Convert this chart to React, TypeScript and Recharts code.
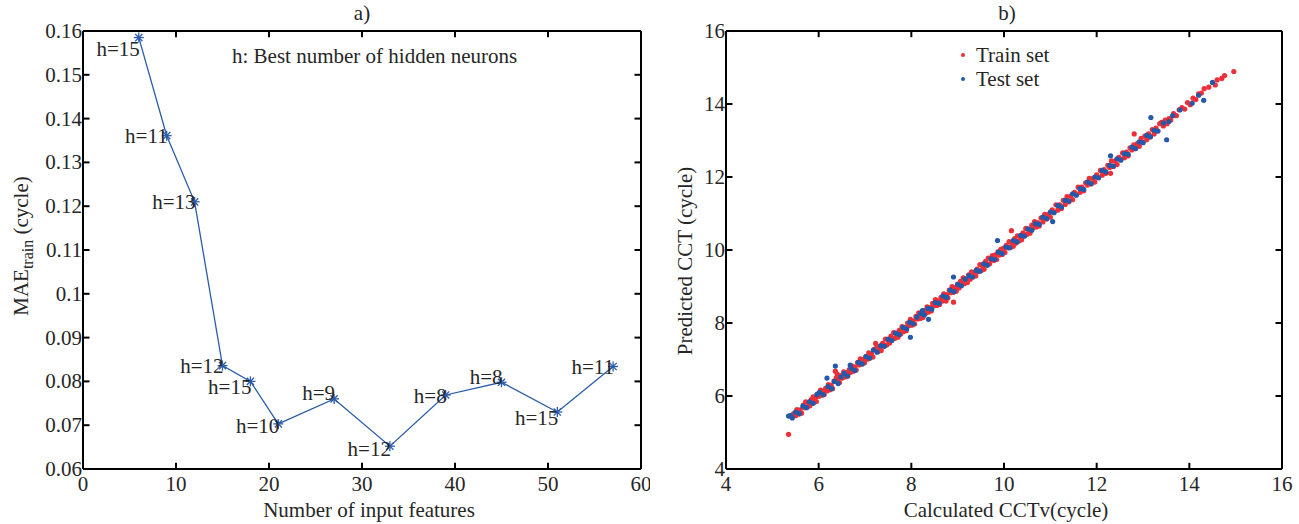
import React from "react";
import {
  LineChart,
  Line,
  XAxis,
  YAxis,
  ScatterChart,
  Scatter,
  Legend,
  LabelList,
  Label,
  ReferenceLine,
} from "recharts";

// panel a) MAE vs number of input features
const featureCounts = [6, 9, 12, 15, 18, 21, 27, 33, 39, 45, 51, 57];
const maeTrain = [0.1585, 0.1361, 0.121, 0.0836, 0.08, 0.0703, 0.076, 0.0652, 0.0769, 0.0798, 0.073, 0.0834];
const hiddenNeurons = [15, 11, 13, 12, 15, 10, 9, 12, 8, 8, 15, 11];
const xTicksA = [0, 10, 20, 30, 40, 50, 60];
const yTicksA = [0.06, 0.07, 0.08, 0.09, 0.1, 0.11, 0.12, 0.13, 0.14, 0.15, 0.16];

// panel b) calculated vs predicted CCT
const ticksB = [4, 6, 8, 10, 12, 14, 16];
const trainSet: [number, number][] = [
  [5.35, 4.95], [5.46, 5.52], [5.5, 5.46], [5.53, 5.63], [5.57, 5.5], [5.6, 5.62], [5.63, 5.53], [5.67, 5.75],
  [5.7, 5.68], [5.72, 5.84], [5.76, 5.71], [5.79, 5.83], [5.81, 5.73], [5.84, 5.9], [5.86, 5.82], [5.88, 5.98],
  [5.9, 5.83], [5.93, 5.95], [5.95, 5.85], [5.98, 6.06], [6.01, 5.99], [6.04, 6.16], [6.07, 6.02], [6.09, 6.13],
  [6.12, 6.04], [6.15, 6.21], [6.18, 6.14], [6.21, 6.31], [6.24, 6.17], [6.27, 6.29], [6.3, 6.2], [6.33, 6.41],
  [6.36, 6.68], [6.38, 6.5], [6.4, 6.6], [6.42, 6.46], [6.45, 6.37], [6.48, 6.56], [6.51, 6.49], [6.54, 6.66],
  [6.57, 6.52], [6.6, 6.64], [6.63, 6.55], [6.66, 6.72], [6.69, 6.65], [6.72, 6.82], [6.75, 6.68], [6.78, 6.8],
  [6.81, 6.71], [6.84, 6.92], [6.87, 6.85], [6.9, 7.02], [6.93, 6.88], [6.96, 7.0], [6.99, 6.91], [7.02, 7.08],
  [7.05, 7.01], [7.08, 7.18], [7.11, 7.04], [7.14, 7.16], [7.17, 7.07], [7.2, 7.28], [7.23, 7.44], [7.26, 7.36],
  [7.29, 7.22], [7.32, 7.34], [7.35, 7.25], [7.38, 7.44], [7.41, 7.39], [7.44, 7.56], [7.47, 7.4], [7.5, 7.54],
  [7.53, 7.45], [7.56, 7.64], [7.59, 7.57], [7.62, 7.74], [7.65, 7.58], [7.68, 7.7], [7.71, 7.61], [7.74, 7.8],
  [7.77, 7.7], [7.8, 7.9], [7.83, 7.76], [7.86, 7.88], [7.89, 7.79], [7.92, 8.0], [7.95, 7.93], [7.98, 8.1],
  [8.01, 7.94], [8.04, 8.06], [8.07, 7.97], [8.1, 8.18], [8.13, 8.11], [8.16, 8.28], [8.19, 8.12], [8.22, 8.24],
  [8.25, 8.15], [8.28, 8.34], [8.31, 8.27], [8.34, 8.44], [8.37, 8.3], [8.4, 8.42], [8.43, 8.33], [8.46, 8.54],
  [8.49, 8.47], [8.52, 8.64], [8.55, 8.48], [8.58, 8.6], [8.61, 8.51], [8.64, 8.7], [8.67, 8.6], [8.7, 8.8],
  [8.73, 8.66], [8.75, 8.6], [8.76, 8.78], [8.79, 8.69], [8.82, 8.9], [8.85, 8.83], [8.88, 9.0], [8.91, 8.57],
  [8.91, 8.84], [8.94, 8.96], [8.97, 8.87], [9.0, 9.06], [9.03, 8.96], [9.06, 9.14], [9.09, 9.07], [9.12, 9.24],
  [9.15, 9.08], [9.18, 9.2], [9.21, 9.11], [9.24, 9.32], [9.27, 9.2], [9.3, 9.4], [9.33, 9.26], [9.36, 9.38],
  [9.39, 9.29], [9.42, 9.48], [9.45, 9.41], [9.48, 9.6], [9.51, 9.44], [9.54, 9.56], [9.57, 9.47], [9.6, 9.68],
  [9.63, 9.61], [9.66, 9.78], [9.69, 9.62], [9.72, 9.74], [9.75, 9.85], [9.78, 9.71], [9.81, 9.87], [9.84, 9.74],
  [9.87, 9.95], [9.9, 9.86], [9.93, 10.02], [9.96, 9.88], [9.99, 10.05], [10.02, 9.93], [10.05, 10.13], [10.08, 10.06],
  [10.11, 10.23], [10.14, 10.07], [10.16, 10.53], [10.17, 10.19], [10.2, 10.1], [10.23, 10.31], [10.26, 10.19], [10.29, 10.39],
  [10.32, 10.25], [10.35, 10.37], [10.38, 10.28], [10.41, 10.47], [10.44, 10.4], [10.47, 10.59], [10.5, 10.43], [10.53, 10.55],
  [10.56, 10.46], [10.6, 10.68], [10.63, 10.61], [10.66, 10.78], [10.7, 10.63], [10.73, 10.75], [10.76, 10.66], [10.8, 10.88],
  [10.84, 10.77], [10.88, 10.98], [10.92, 10.85], [10.96, 10.98], [11.0, 10.9], [11.04, 11.1], [11.08, 11.04], [11.12, 11.24],
  [11.16, 11.09], [11.2, 11.24], [11.24, 11.14], [11.28, 11.36], [11.32, 11.25], [11.36, 11.46], [11.4, 11.32], [11.44, 11.48],
  [11.48, 11.38], [11.52, 11.58], [11.56, 11.52], [11.6, 11.72], [11.64, 11.58], [11.68, 11.72], [11.72, 11.62], [11.76, 11.84],
  [11.8, 11.78], [11.84, 11.96], [11.88, 11.81], [11.92, 11.96], [11.96, 11.86], [12.0, 12.06], [12.04, 11.98], [12.08, 12.18],
  [12.12, 12.05], [12.16, 12.2], [12.2, 12.1], [12.24, 12.32], [12.3, 12.1], [12.28, 12.26], [12.32, 12.44], [12.36, 12.29],
  [12.4, 12.44], [12.44, 12.34], [12.48, 12.54], [12.52, 12.48], [12.56, 12.66], [12.6, 12.53], [12.64, 12.68], [12.68, 12.58],
  [12.72, 12.8], [12.76, 12.74], [12.81, 13.18], [12.8, 12.88], [12.84, 12.78], [12.88, 12.92], [12.92, 12.84], [12.96, 13.06],
  [13.0, 12.95], [13.04, 13.12], [13.08, 13.02], [13.12, 13.18], [13.16, 13.1], [13.2, 13.3], [13.24, 13.18], [13.28, 13.34],
  [13.32, 13.26], [13.36, 13.46], [13.4, 13.5], [13.44, 13.4], [13.48, 13.56], [13.52, 13.46], [13.56, 13.6], [13.6, 13.56],
  [13.66, 13.74], [13.72, 13.68], [13.78, 13.84], [13.84, 13.9], [13.9, 13.86], [13.96, 14.04], [14.02, 13.98], [14.08, 14.16],
  [14.14, 14.12], [14.2, 14.28], [14.26, 14.3], [14.32, 14.42], [14.42, 14.46], [14.56, 14.52], [14.6, 14.66], [14.7, 14.7],
  [14.76, 14.78], [14.96, 14.89],
];
const testSet: [number, number][] = [
  [5.35, 5.45], [5.39, 5.46], [5.43, 5.4], [5.5, 5.56], [5.58, 5.52], [5.66, 5.72], [5.74, 5.68], [5.8, 5.84],
  [5.88, 5.8], [5.96, 6.04], [6.02, 6.1], [6.1, 6.04], [6.18, 6.49], [6.2, 6.26], [6.28, 6.2], [6.34, 6.4],
  [6.36, 6.82], [6.42, 6.34], [6.48, 6.52], [6.55, 6.62], [6.62, 6.55], [6.68, 6.85], [6.7, 6.76], [6.78, 6.7],
  [6.86, 6.92], [6.94, 6.88], [7.02, 7.08], [7.1, 7.04], [7.18, 7.26], [7.26, 7.2], [7.34, 7.38], [7.42, 7.36],
  [7.5, 7.56], [7.58, 7.52], [7.66, 7.72], [7.74, 7.68], [7.82, 7.88], [7.9, 7.84], [7.98, 7.61], [7.96, 8.02],
  [8.04, 7.98], [8.12, 8.16], [8.2, 8.26], [8.24, 8.34], [8.28, 8.22], [8.37, 8.1], [8.36, 8.4], [8.44, 8.38],
  [8.52, 8.56], [8.6, 8.54], [8.68, 8.74], [8.76, 8.7], [8.84, 8.9], [8.91, 9.26], [8.92, 8.86], [9.0, 9.06],
  [9.08, 9.02], [9.16, 9.2], [9.24, 9.3], [9.32, 9.26], [9.4, 9.44], [9.48, 9.42], [9.56, 9.62], [9.64, 9.58],
  [9.72, 9.76], [9.8, 9.74], [9.86, 10.26], [9.88, 9.94], [9.96, 9.9], [10.04, 10.08], [10.12, 10.06], [10.2, 10.26],
  [10.28, 10.22], [10.36, 10.4], [10.44, 10.38], [10.52, 10.58], [10.6, 10.54], [10.68, 10.72], [10.76, 10.7], [10.84, 10.9],
  [10.92, 10.86], [11.0, 11.04], [11.05, 10.78], [11.08, 11.02], [11.16, 11.22], [11.24, 11.18], [11.32, 11.36], [11.4, 11.34],
  [11.48, 11.54], [11.56, 11.5], [11.64, 11.68], [11.72, 11.66], [11.8, 11.86], [11.88, 11.82], [11.96, 12.0], [12.04, 11.98],
  [12.12, 12.18], [12.2, 12.14], [12.3, 12.58], [12.28, 12.32], [12.36, 12.3], [12.44, 12.5], [12.52, 12.46], [12.6, 12.64],
  [12.68, 12.62], [12.76, 12.82], [12.84, 12.78], [12.92, 12.96], [13.0, 12.94], [13.08, 13.14], [13.17, 13.63], [13.16, 13.1],
  [13.24, 13.28], [13.32, 13.26], [13.51, 13.02], [13.44, 13.48], [13.56, 13.52], [13.64, 13.68], [13.8, 13.84], [14.06, 14.02],
  [14.2, 14.24], [14.31, 14.1], [14.5, 14.59],
];

// label nudges for the "h=" annotations (px, vertical)
const hLabelShift = [11, 0, 0, 0, 6, 2, -6, 3, 1, -5, 6, 0];

const FONT = "'Liberation Serif', 'Times New Roman', serif";
const FS = 21;
const TEXT = "#262626";
const AXIS = "#000";
const LINE_BLUE = "#2a5caa";
const RED = "#ee2f37";
const BLUE = "#2458a8";

const lineData = featureCounts.map((x, i) => ({ x, mae: maeTrain[i], h: hiddenNeurons[i] }));
const trainData = trainSet.map(([x, y]) => ({ x, y }));
const testData = testSet.map(([x, y]) => ({ x, y }));

const fmt = (v: number) => String(Number(v.toFixed(2)));
const axisLine = { stroke: AXIS, strokeWidth: 2 };

const BottomTick = (props: any) => {
  const { x, y, payload } = props;
  return (
    <text x={x} y={y + 22} textAnchor="middle" fontSize={FS} fontFamily={FONT} fill={TEXT}>
      {fmt(payload.value)}
    </text>
  );
};

const LeftTick = (props: any) => {
  const { x, y, payload } = props;
  return (
    <text x={x - 1} y={y} dy={7} textAnchor="end" fontSize={FS} fontFamily={FONT} fill={TEXT}>
      {fmt(payload.value)}
    </text>
  );
};

const boxAxis = {
  tickSize: 0,
  tickMargin: 0,
  tickLine: false,
  axisLine,
  interval: 0 as const,
};

// inward box ticks as short reference segments (length given in data units of the other axis)
const boxTicks = (
  xt: number[],
  yt: number[],
  [x0, x1]: number[],
  [y0, y1]: number[],
  lx: number,
  ly: number,
  prefix: string,
) => [
  ...xt.flatMap((t) => [
    <ReferenceLine key={`${prefix}b${t}`} segment={[{ x: t, y: y0 }, { x: t, y: y0 + ly }]} stroke={AXIS} strokeWidth={2} ifOverflow="visible" />,
    <ReferenceLine key={`${prefix}t${t}`} segment={[{ x: t, y: y1 }, { x: t, y: y1 - ly }]} stroke={AXIS} strokeWidth={2} ifOverflow="visible" />,
  ]),
  ...yt.flatMap((t) => [
    <ReferenceLine key={`${prefix}l${t}`} segment={[{ x: x0, y: t }, { x: x0 + lx, y: t }]} stroke={AXIS} strokeWidth={2} ifOverflow="visible" />,
    <ReferenceLine key={`${prefix}r${t}`} segment={[{ x: x1, y: t }, { x: x1 - lx, y: t }]} stroke={AXIS} strokeWidth={2} ifOverflow="visible" />,
  ]),
];

const Star = (props: any) => {
  const { cx, cy, index } = props;
  const r = 5;
  const d = r * 0.72;
  return (
    <g key={`star-${index}`} stroke={LINE_BLUE} strokeWidth={1.3}>
      <line x1={cx - r} y1={cy} x2={cx + r} y2={cy} />
      <line x1={cx} y1={cy - r} x2={cx} y2={cy + r} />
      <line x1={cx - d} y1={cy - d} x2={cx + d} y2={cy + d} />
      <line x1={cx - d} y1={cy + d} x2={cx + d} y2={cy - d} />
    </g>
  );
};

const HLabel = (props: any) => {
  const { x, y, value, index } = props;
  return (
    <text
      x={x + 1}
      y={y + hLabelShift[index]}
      dy={7}
      textAnchor="end"
      fontSize={FS}
      fontFamily={FONT}
      fill={TEXT}
    >
      h={value}
    </text>
  );
};

const Dot = (color: string) => (props: any) =>
  <circle cx={props.cx} cy={props.cy} r={2.6} fill={color} />;

const ScatterLegend = () => (
  <div style={{ fontFamily: FONT, fontSize: FS, color: TEXT, lineHeight: "24px" }}>
    {[
      { name: "Train set", color: RED },
      { name: "Test set", color: BLUE },
    ].map((it) => (
      <div key={it.name} style={{ display: "flex", alignItems: "center" }}>
        <span
          style={{
            display: "inline-block",
            width: 4,
            height: 4,
            borderRadius: 2,
            background: it.color,
            marginRight: 11,
          }}
        />
        {it.name}
      </div>
    ))}
  </div>
);

export default function App() {
  return (
    <div
      style={{
        position: "absolute",
        left: 0,
        top: 0,
        width: 1299,
        height: 524,
        background: "#fff",
      }}
    >
      <div style={{ position: "absolute", left: 0, top: 0 }}>
        <LineChart width={650} height={524} data={lineData} margin={{ top: 30, right: 8, bottom: 0, left: 0 }}>
          <XAxis dataKey="x" type="number" domain={[0, 60]} ticks={xTicksA} height={55} tick={<BottomTick />} {...boxAxis}>
            <Label
              content={(p: any) => (
                <text
                  x={p.viewBox.x + p.viewBox.width / 2 + 7}
                  y={p.viewBox.y + 48}
                  textAnchor="middle"
                  fontSize={FS}
                  fontFamily={FONT}
                  fill={TEXT}
                >
                  Number of input features
                </text>
              )}
            />
          </XAxis>
          <XAxis
            xAxisId="top"
            dataKey="x"
            type="number"
            orientation="top"
            domain={[0, 60]}
            ticks={xTicksA}
            height={1}
            tick={false}
            {...boxAxis}
          >
            <Label
              content={(p: any) => (
                <text
                  x={p.viewBox.x + p.viewBox.width / 2}
                  y={p.viewBox.y - 10}
                  textAnchor="middle"
                  fontSize={FS}
                  fontFamily={FONT}
                  fill={TEXT}
                >
                  a)
                </text>
              )}
            />
            <Label
              content={(p: any) => (
                <text
                  x={p.viewBox.x + 149}
                  y={p.viewBox.y + 33}
                  textAnchor="start"
                  fontSize={FS}
                  fontFamily={FONT}
                  fill={TEXT}
                >
                  h: Best number of hidden neurons
                </text>
              )}
            />
          </XAxis>
          <YAxis type="number" domain={[0.06, 0.16]} ticks={yTicksA} width={83} tick={<LeftTick />} {...boxAxis}>
            <Label
              content={() => (
                <text
                  transform="translate(28, 246) rotate(-90)"
                  textAnchor="middle"
                  fontSize={FS}
                  fontFamily={FONT}
                  fill={TEXT}
                >
                  MAE
                  <tspan fontSize={16} dy={5}>
                    train
                  </tspan>
                  <tspan dy={-5}> (cycle)</tspan>
                </text>
              )}
            />
          </YAxis>
          <YAxis
            yAxisId="right"
            orientation="right"
            type="number"
            domain={[0.06, 0.16]}
            ticks={yTicksA}
            width={1}
            tick={false}
            {...boxAxis}
          />
          {boxTicks(xTicksA, yTicksA, [0, 60], [0.06, 0.16], 0.7, 0.0014, "a")}
          <Line
            dataKey="mae"
            type="linear"
            stroke={LINE_BLUE}
            strokeWidth={1.3}
            dot={Star}
            activeDot={false}
            isAnimationActive={false}
          >
            <LabelList dataKey="h" content={HLabel} />
          </Line>
        </LineChart>
      </div>

      <div style={{ position: "absolute", left: 650, top: 0 }}>
        <ScatterChart width={649} height={524} margin={{ top: 30, right: 16, bottom: 0, left: 0 }}>
          <XAxis dataKey="x" type="number" domain={[4, 16]} ticks={ticksB} height={55} tick={<BottomTick />} {...boxAxis}>
            <Label
              content={(p: any) => (
                <text
                  x={p.viewBox.x + p.viewBox.width / 2 + 2}
                  y={p.viewBox.y + 48}
                  textAnchor="middle"
                  fontSize={FS}
                  fontFamily={FONT}
                  fill={TEXT}
                >
                  Calculated CCTv(cycle)
                </text>
              )}
            />
          </XAxis>
          <XAxis
            xAxisId="top"
            dataKey="x"
            type="number"
            orientation="top"
            domain={[4, 16]}
            ticks={ticksB}
            height={1}
            tick={false}
            {...boxAxis}
          >
            <Label
              content={(p: any) => (
                <text
                  x={p.viewBox.x + p.viewBox.width / 2 + 3}
                  y={p.viewBox.y - 10}
                  textAnchor="middle"
                  fontSize={FS}
                  fontFamily={FONT}
                  fill={TEXT}
                >
                  b)
                </text>
              )}
            />
          </XAxis>
          <YAxis dataKey="y" type="number" domain={[4, 16]} ticks={ticksB} width={76} tick={<LeftTick />} {...boxAxis}>
            <Label
              content={() => (
                <text
                  transform="translate(42, 261) rotate(-90)"
                  textAnchor="middle"
                  fontSize={FS}
                  fontFamily={FONT}
                  fill={TEXT}
                >
                  Predicted CCT (cycle)
                </text>
              )}
            />
          </YAxis>
          <YAxis
            yAxisId="right"
            dataKey="y"
            orientation="right"
            type="number"
            domain={[4, 16]}
            ticks={ticksB}
            width={1}
            tick={false}
            {...boxAxis}
          />
          {boxTicks(ticksB, ticksB, [4, 16], [4, 16], 0.14, 0.17, "b")}
          <Legend
            layout="vertical"
            align="center"
            verticalAlign="middle"
            content={<ScatterLegend />}
            wrapperStyle={{ position: "absolute", left: 311, top: 43, width: 140 }}
          />
          <Scatter name="Train set" data={trainData} fill={RED} shape={Dot(RED)} isAnimationActive={false} />
          <Scatter name="Test set" data={testData} fill={BLUE} shape={Dot(BLUE)} isAnimationActive={false} />
        </ScatterChart>
      </div>
    </div>
  );
}
